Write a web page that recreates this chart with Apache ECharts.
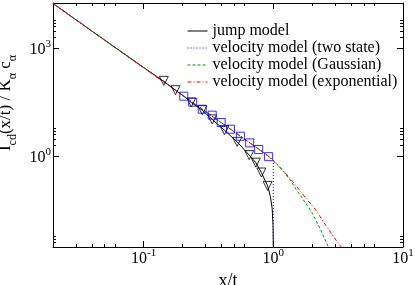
<!DOCTYPE html>
<html>
<head>
<meta charset="utf-8">
<script src="https://cdn.jsdelivr.net/npm/echarts@6/dist/echarts.min.js"></script>
<style>html,body{margin:0;padding:0;background:#fff;}#c{width:415px;height:285px;}</style>
</head>
<body>
<div id="c"></div>
<script>
// ---- data ----
const legendNames = ['jump model', 'velocity model (two state)', 'velocity model (Gaussian)', 'velocity model (exponential)'];

const jumpX = [0.02, 0.03, 0.05, 0.1, 0.143, 0.176, 0.2, 0.233, 0.283, 0.338, 0.42, 0.526, 0.652, 0.733, 0.809, 0.904, 0.95, 0.98, 0.995, 1.0];
const jumpY = [17400, 6190, 1681, 290, 120, 68, 49, 31, 18.9, 10.5, 5.27, 2.5, 1.07, 0.66, 0.352, 0.149, 0.075, 0.035, 0.012, 0.003];

const velX = [0.02, 0.03, 0.05, 0.1, 0.143, 0.2, 0.3, 0.4, 0.5, 0.6, 0.7, 0.8, 0.9, 0.95, 1.0];
const velY = [17400, 6190, 1681, 287, 115, 49, 17.4, 8.37, 4.74, 2.98, 2.01, 1.43, 1.06, 0.9, 0.74];

const twoStateX = [1.0];
const twoStateY = [0.003];

const gaussX = [1.1, 1.2, 1.35, 1.5, 1.7, 2.0, 2.3, 2.6, 2.7];
const gaussY = [0.53, 0.37, 0.22, 0.12, 0.062, 0.026, 0.0095, 0.0036, 0.0025];

const expoX = [1.1, 1.2, 1.35, 1.5, 1.8, 2.1, 2.5, 3.0, 3.5];
const expoY = [0.54, 0.38, 0.24, 0.15, 0.065, 0.034, 0.013, 0.005, 0.0024];

const triX = [0.143, 0.176, 0.233, 0.283, 0.338, 0.42, 0.526, 0.652, 0.733, 0.809, 0.904];
const triY = [123.5, 68, 31, 18.9, 10.5, 5.27, 2.5, 1.07, 0.66, 0.352, 0.149];

const sqX = [0.204, 0.239, 0.283, 0.338, 0.396, 0.467, 0.557, 0.657, 0.771, 0.92];
const sqY = [46.4, 31.6, 20.2, 13.8, 8.63, 5.62, 3.59, 2.34, 1.53, 0.97];

const xMajorTicks = [0.1, 1, 10];
const xMinorTicks = [0.03, 0.04, 0.05, 0.06, 0.2, 0.3, 0.4, 0.5, 0.6, 2, 3, 4, 5, 6];
const yMajorTicks = [1, 1000];
const yMinorTicks = [0.004, 0.005, 0.006, 2, 3, 4, 5, 6, 2000, 3000, 4000, 5000, 6000];

// ---- helpers ----
const zip = (xs, ys) => xs.map((x, i) => [x, ys[i]]);
const FONT = 'Liberation Serif';
const powLabel = v => {
  const e = Math.round(Math.log10(v));
  return '{b|10}{s|' + e + '}';
};
const labelRich = {
  b: { fontFamily: FONT, fontSize: 16, color: '#000', verticalAlign: 'bottom' },
  s: { fontFamily: FONT, fontSize: 11, color: '#000', verticalAlign: 'bottom', padding: [0, 0, 8, 0] }
};

function xAx(pos, major) {
  return {
    type: 'log', logBase: 10, min: 0.02, max: 10, position: pos,
    axisLine: { show: major, lineStyle: { color: '#000', width: 1 } },
    axisTick: { show: true, inside: true, length: major ? 6 : 3, customValues: major ? xMajorTicks : xMinorTicks, lineStyle: { color: '#000', width: 1 } },
    axisLabel: { show: major && pos === 'bottom', customValues: xMajorTicks, formatter: powLabel, rich: labelRich, margin: 1 },
    splitLine: { show: false }, minorTick: { show: false },
    name: (major && pos === 'bottom') ? 'x/t' : '',
    nameLocation: 'middle', nameGap: 21,
    nameTextStyle: { fontFamily: FONT, fontSize: 18, color: '#000' }
  };
}
function yAx(pos, major) {
  return {
    type: 'log', logBase: 10, min: 0.003, max: 18000, position: pos,
    axisLine: { show: major, lineStyle: { color: '#000', width: 1 } },
    axisTick: { show: true, inside: true, length: major ? 6 : 3, customValues: major ? yMajorTicks : yMinorTicks, lineStyle: { color: '#000', width: 1 } },
    axisLabel: { show: major && pos === 'left', customValues: yMajorTicks, formatter: powLabel, rich: labelRich, margin: 2 },
    splitLine: { show: false }, minorTick: { show: false },
    name: (major && pos === 'left') ? '{m|I}{s|cd}{m|(x/t) / K}{s|α}{m| c}{s|α}' : '',
    nameLocation: 'middle', nameGap: 30, nameRotate: 90,
    nameTextStyle: {
      padding: [0, 0, 0, 44],
      rich: {
        m: { fontFamily: FONT, fontSize: 17, color: '#000', verticalAlign: 'bottom', padding: [0, 0, 5, 0] },
        s: { fontFamily: FONT, fontSize: 12, color: '#000', verticalAlign: 'bottom' }
      }
    }
  };
}

const lineBase = { type: 'line', symbol: 'none', smooth: false, clip: true, xAxisIndex: 0, yAxisIndex: 0, animation: false };

const chart = echarts.init(document.getElementById('c'), null, { renderer: 'canvas' });
chart.setOption({
  animation: false,
  backgroundColor: '#fff',
  grid: { left: 53, right: 12, top: 3, bottom: 38, containLabel: false, outerBoundsMode: 'none' },
  xAxis: [xAx('bottom', true), xAx('bottom', false), xAx('top', true), xAx('top', false)],
  yAxis: [yAx('left', true), yAx('left', false), yAx('right', true), yAx('right', false)],
  legend: {
    data: legendNames,
    orient: 'vertical', left: 187, top: 23, padding: 0,
    itemWidth: 20, itemHeight: 12, itemGap: 1,
    itemStyle: { opacity: 0 },
    lineStyle: { width: 1 },
    textStyle: { fontFamily: FONT, fontSize: 16, color: '#000', lineHeight: 15 }
  },
  series: [
    Object.assign({}, lineBase, { name: legendNames[0], data: zip(jumpX, jumpY), lineStyle: { color: '#000', width: 1 }, itemStyle: { color: '#000' }, z: 2 }),
    Object.assign({}, lineBase, { name: legendNames[1], data: zip(velX, velY).concat(zip(twoStateX, twoStateY)), lineStyle: { color: '#0000ff', width: 1, type: [1, 2] }, itemStyle: { color: '#0000ff' }, z: 3 }),
    Object.assign({}, lineBase, { name: legendNames[2], data: zip(velX, velY).concat(zip(gaussX, gaussY)), lineStyle: { color: '#009900', width: 1, type: [3, 2] }, itemStyle: { color: '#009900' }, z: 4 }),
    Object.assign({}, lineBase, { name: legendNames[3], data: zip(velX, velY).concat(zip(expoX, expoY)), lineStyle: { color: '#ff0000', width: 1, type: [4, 2, 1, 2] }, itemStyle: { color: '#ff0000' }, z: 5 }),
    { type: 'scatter', name: 'jump data', data: zip(triX, triY), symbol: 'triangle', symbolRotate: 180, symbolSize: 9,
      itemStyle: { color: 'rgba(0,0,0,0)', borderColor: '#000', borderWidth: 1 }, z: 6, animation: false },
    { type: 'scatter', name: 'velocity data', data: zip(sqX, sqY), symbol: 'rect', symbolSize: 8,
      itemStyle: { color: 'rgba(0,0,0,0)', borderColor: '#0000ff', borderWidth: 1 }, z: 6, animation: false }
  ]
});
</script>
</body>
</html>
